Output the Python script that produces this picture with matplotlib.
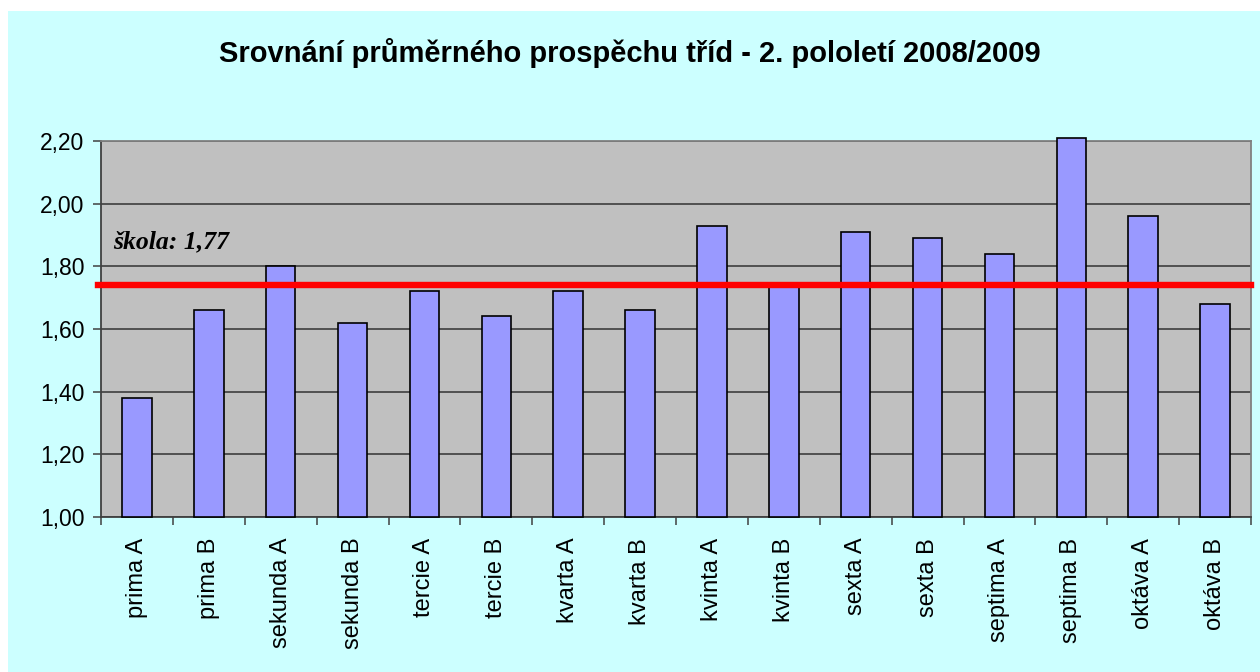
import matplotlib
matplotlib.use("Agg")
import matplotlib.pyplot as plt
from matplotlib.patches import Rectangle

# class averages, 2nd half of school year 2008/2009
classes = ["prima A", "prima B", "sekunda A", "sekunda B", "tercie A", "tercie B",
           "kvarta A", "kvarta B", "kvinta A", "kvinta B", "sexta A", "sexta B",
           "septima A", "septima B", "oktáva A", "oktáva B"]
averages = [1.38, 1.66, 1.80, 1.62, 1.72, 1.64, 1.72, 1.66,
            1.93, 1.74, 1.91, 1.89, 1.84, 2.21, 1.96, 1.68]
school_line = 1.74
school_label = "škola: 1,77"
yticks = [1.0, 1.2, 1.4, 1.6, 1.8, 2.0, 2.2]
ybase = 1.0

plt.rcParams['font.family'] = ['Liberation Sans', 'DejaVu Sans']

fig = plt.figure(figsize=(12.6, 6.72), dpi=100)
fig.patch.set_facecolor("white")
# cyan chart area, small white strip on top and left
fig.patches.append(Rectangle((8 / 1260, 0), 1, 1 - 11 / 672, transform=fig.transFigure,
                             facecolor="#CCFFFF", edgecolor="none", zorder=-10))

ax = fig.add_axes([101 / 1260, 1 - 517 / 672, 1150 / 1260, 376 / 672])
ax.set_facecolor("#C0C0C0")

x = list(range(len(classes)))
# bars start at the axis floor (1,00); septima B pokes a bit over the top
bars = ax.bar(x, [v - ybase for v in averages], width=0.41, bottom=ybase,
              color="#9999FF", edgecolor="black", linewidth=1.2, zorder=3)
for b in bars:
    b.set_clip_on(False)

ax.axhline(school_line, xmin=-0.003, xmax=1, color="#FF0000", linewidth=4.6,
           zorder=4, clip_on=False)
ax.text(-0.33, 1.858, school_label, fontsize=18.5, fontweight="bold", fontstyle="italic",
        family=["Liberation Serif", "DejaVu Serif"], ha="left", va="baseline", zorder=5)

ax.set_xlim(-0.5, len(classes) - 0.5)
ax.set_ylim(ybase, 2.2)
ax.set_yticks(yticks)
ax.set_yticklabels([("%.2f" % v).replace(".", ",") for v in yticks], fontsize=16.5)
ax.yaxis.grid(True, color="#333333", linewidth=1.1, zorder=1)
ax.set_axisbelow(True)

# category labels in the middle, tick marks between categories
ax.set_xticks(x)
ax.set_xticklabels(classes, rotation=90, fontsize=17, va="top")
ax.tick_params(axis="x", which="major", length=0, pad=15)
ax.set_xticks([i - 0.5 for i in range(len(classes) + 1)], minor=True)
ax.tick_params(axis="x", which="minor", length=6, width=1.1, color="#404040", direction="out")
ax.tick_params(axis="y", length=6, width=1.1, color="#404040", direction="out", pad=6)

for side in ["left", "bottom"]:
    ax.spines[side].set_color("#404040")
    ax.spines[side].set_linewidth(1.3)
for side in ["top", "right"]:
    ax.spines[side].set_color("#808080")
    ax.spines[side].set_linewidth(1.3)

fig.text(0.5, 1 - 53 / 672, "Srovnání průměrného prospěchu tříd - 2. pololetí 2008/2009",
         ha="center", va="center", fontsize=21, fontweight="bold")

fig.savefig("out.png", dpi=100, facecolor=fig.get_facecolor())
